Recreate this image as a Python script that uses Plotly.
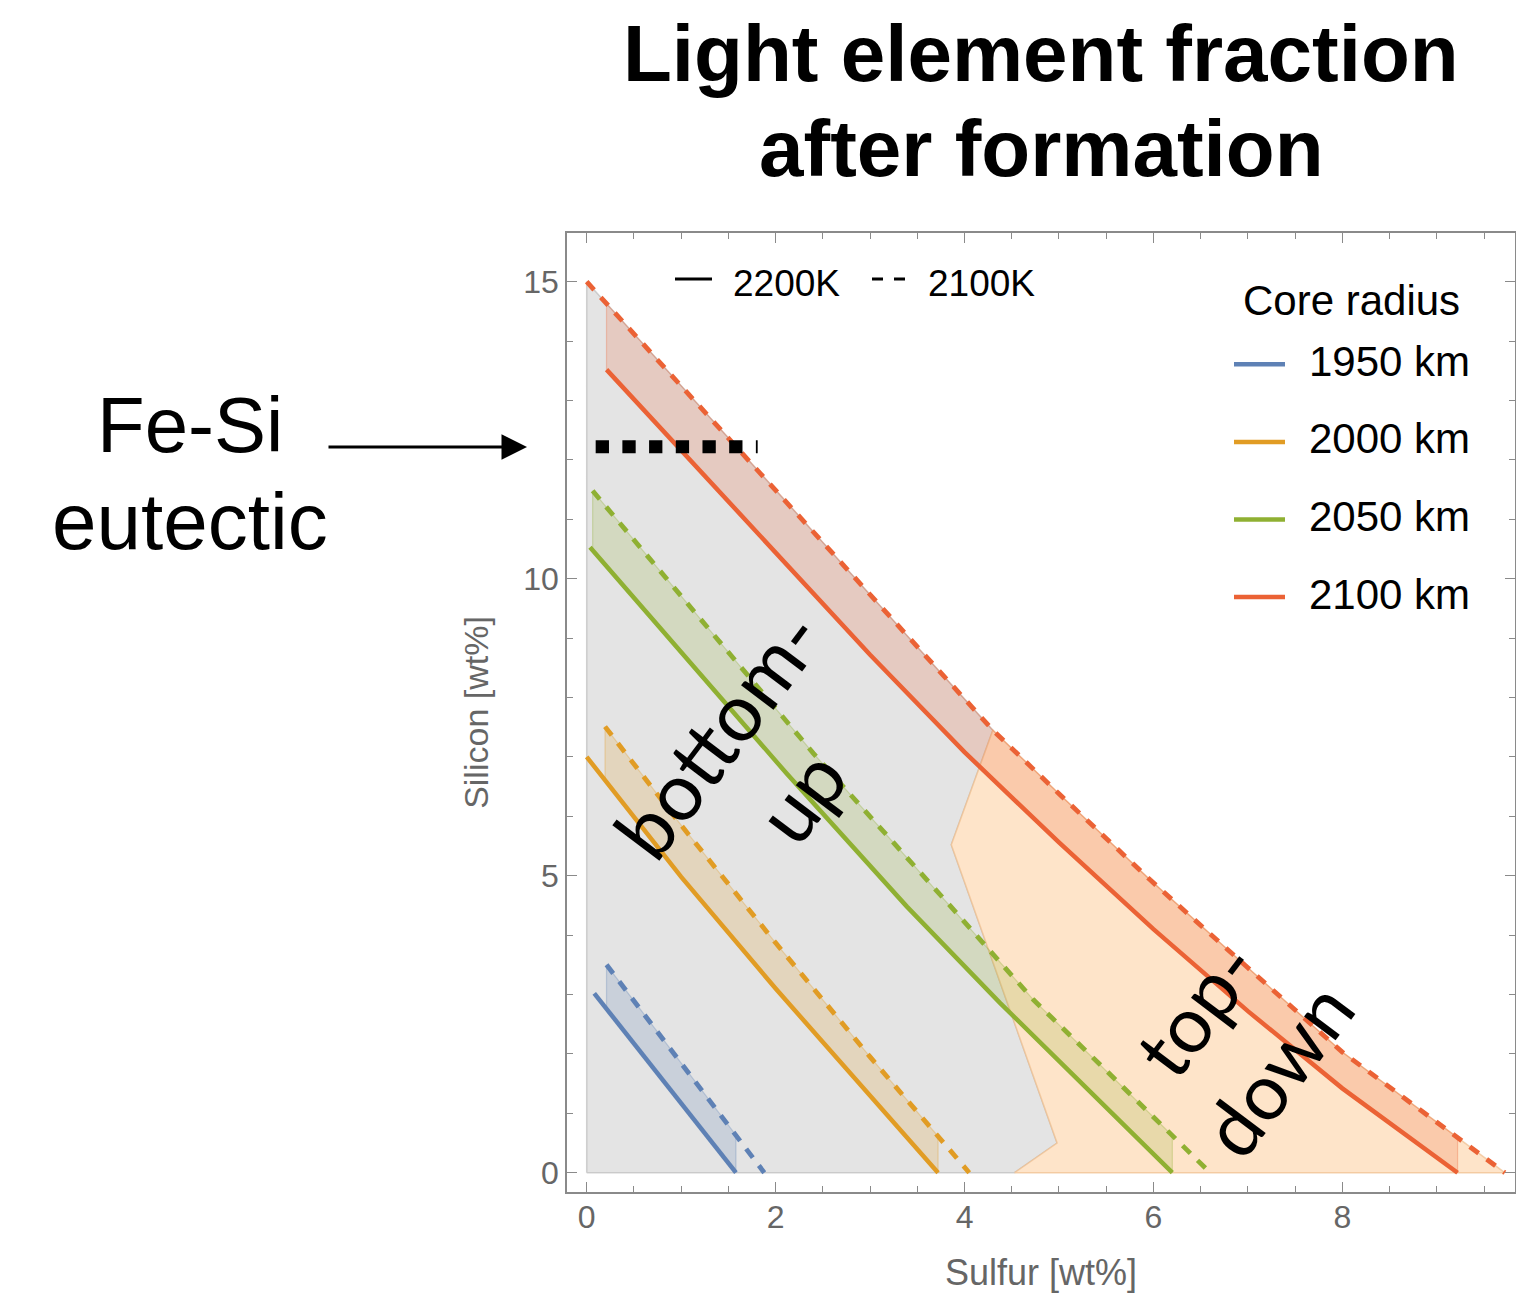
import numpy as np
import plotly.graph_objects as go

# ---------------- data ----------------
# Sulfur [wt%] (S) vs Silicon [wt%] (Si) curves, per core radius, two temperatures
red_solid_S = [0.21, 1.0, 2.0, 3.0, 4.0, 5.0, 6.0, 7.0, 8.0, 9.22]            # 2100 km, 2200K
red_solid_Si = [13.52, 12.16, 10.42, 8.72, 7.08, 5.56, 4.1, 2.72, 1.42, 0.0]
red_dash_S = [0.0, 1.0, 2.0, 2.75, 3.5, 4.3, 5.0, 5.965, 7.0, 8.0, 9.0, 9.72]  # 2100 km, 2100K
red_dash_Si = [15.0, 13.25, 11.5, 10.17, 8.85, 7.45, 6.38, 4.93, 3.45, 2.03, 0.85, 0.0]

green_solid_S = [0.035, 1.0, 2.117, 3.39, 4.375, 5.3, 6.2]                     # 2050 km, 2200K
green_solid_Si = [10.53, 8.77, 6.72, 4.48, 2.86, 1.41, 0.0]
green_dash_S = [0.063, 1.0, 2.4, 3.81, 4.73, 5.5, 6.6]                         # 2050 km, 2100K
green_dash_Si = [11.48, 9.71, 7.06, 4.56, 2.91, 1.72, 0.0]

orange_solid_S = [0.0, 1.0, 2.0, 3.0, 3.72]                                    # 2000 km, 2200K
orange_solid_Si = [7.0, 4.98, 3.1, 1.3, 0.0]
orange_dash_S = [0.194, 1.0, 2.0, 3.0, 4.05]                                   # 2000 km, 2100K
orange_dash_Si = [7.51, 5.85, 3.87, 1.95, 0.0]

blue_solid_S = [0.08, 1.58]                                                    # 1950 km, 2200K
blue_solid_Si = [3.02, 0.0]
blue_dash_S = [0.21, 1.0, 1.88]                                                # 1950 km, 2100K
blue_dash_Si = [3.5, 1.85, 0.0]

# boundary between bottom-up and top-down regimes
split_S = [4.3, 3.86, 4.98, 4.53]
split_Si = [7.45, 5.52, 0.5, 0.0]

# Fe-Si eutectic
eutectic_S = [0.095, 1.81]
eutectic_Si = [12.22, 12.22]

radius_labels = ["1950 km", "2000 km", "2050 km", "2100 km"]
temp_labels = ["2200K", "2100K"]
colors = ["#5E81B5", "#E19C24", "#8FB032", "#EB6235"]
fill_rgba = ["rgba(94,129,181,0.2)", "rgba(225,156,36,0.2)",
             "rgba(143,176,50,0.2)", "rgba(235,98,53,0.2)"]
edge_rgba = ["rgba(94,129,181,0.3)", "rgba(225,156,36,0.3)",
             "rgba(143,176,50,0.3)", "rgba(235,98,53,0.3)"]

curves = [
    (blue_solid_S, blue_solid_Si, blue_dash_S, blue_dash_Si),
    (orange_solid_S, orange_solid_Si, orange_dash_S, orange_dash_Si),
    (green_solid_S, green_solid_Si, green_dash_S, green_dash_Si),
    (red_solid_S, red_solid_Si, red_dash_S, red_dash_Si),
]

FONT = "Liberation Sans, Arial, Helvetica, sans-serif"
W, H = 1516, 1293
ML, MR, MT, MB = 567, 1, 233, 101
PW, PH = W - ML - MR, H - MT - MB


def pxx(p):
    return (p - ML) / PW


def pxy(p):
    return (H - MB - p) / PH


fig = go.Figure()

# ---------------- regime regions ----------------
rd_S = np.array(red_dash_S)
rd_Si = np.array(red_dash_Si)
top = split_S[0]
left_mask = rd_S < top
right_mask = rd_S > top

gray_x = [0.0] + list(rd_S[left_mask]) + split_S + [0.0]
gray_y = [0.0] + list(rd_Si[left_mask]) + split_Si + [0.0]
fig.add_trace(go.Scatter(x=gray_x, y=gray_y, mode="lines", fill="toself",
                         fillcolor="#E4E4E4",
                         line=dict(color="rgba(175,175,175,0.55)", width=1.5),
                         hoverinfo="skip", showlegend=False))

orng_x = split_S[::-1] + [top] + list(rd_S[right_mask]) + [split_S[-1]]
orng_y = split_Si[::-1] + [float(np.interp(top, red_dash_S, red_dash_Si))] + list(rd_Si[right_mask]) + [split_Si[-1]]
fig.add_trace(go.Scatter(x=orng_x, y=orng_y, mode="lines", fill="toself",
                         fillcolor="#FEE4C9",
                         line=dict(color="rgba(240,190,140,0.7)", width=1.5),
                         hoverinfo="skip", showlegend=False))

# ---------------- bands between temperatures ----------------
for (sS, sSi, dS, dSi), fc, ec in zip(curves, fill_rgba, edge_rgba):
    x0 = max(sS[0], dS[0])
    x1 = min(sS[-1], dS[-1])
    grid = sorted(set([x0, x1] + [v for v in sS + dS if x0 < v < x1]))
    lo = np.interp(grid, sS, sSi)
    hi = np.interp(grid, dS, dSi)
    px_ = list(grid) + list(grid[::-1]) + [grid[0]]
    py_ = list(lo) + list(hi[::-1]) + [lo[0]]
    fig.add_trace(go.Scatter(x=px_, y=py_, mode="lines", fill="toself",
                             fillcolor=fc, line=dict(color=ec, width=1.2),
                             hoverinfo="skip", showlegend=False))

# ---------------- curves ----------------
for (sS, sSi, dS, dSi), c, name in zip(curves, colors, radius_labels):
    fig.add_trace(go.Scatter(x=sS, y=sSi, mode="lines", name=name + " 2200K",
                             line=dict(color=c, width=4.5), showlegend=False))
    fig.add_trace(go.Scatter(x=dS, y=dSi, mode="lines", name=name + " 2100K",
                             line=dict(color=c, width=4.8, dash="11px,10px"),
                             showlegend=False))

# Fe-Si eutectic dotted line
fig.add_trace(go.Scatter(x=eutectic_S, y=eutectic_Si, mode="lines",
                         line=dict(color="black", width=13, dash="13.3px,13.4px"),
                         hoverinfo="skip", showlegend=False))

# ---------------- manual legends ----------------
shapes = []
annotations = []
legend_y = 279
shapes.append(dict(type="line", xref="paper", yref="paper",
                   x0=pxx(675), x1=pxx(712), y0=pxy(legend_y), y1=pxy(legend_y),
                   line=dict(color="black", width=3)))
shapes.append(dict(type="line", xref="paper", yref="paper",
                   x0=pxx(872), x1=pxx(905), y0=pxy(legend_y), y1=pxy(legend_y),
                   line=dict(color="black", width=3, dash="11px,11px")))
for txt, xp in zip(temp_labels, [731, 926]):
    annotations.append(dict(text=txt, xref="paper", yref="paper", x=pxx(xp), y=pxy(283),
                            xanchor="left", yanchor="middle", showarrow=False,
                            font=dict(family=FONT, size=37, color="black")))

annotations.append(dict(text="Core radius", xref="paper", yref="paper", x=pxx(1241), y=pxy(300),
                        xanchor="left", yanchor="middle", showarrow=False,
                        font=dict(family=FONT, size=42, color="black")))
for i, (lab, c) in enumerate(zip(radius_labels, colors)):
    ly = 364.3 + i * 77.6
    shapes.append(dict(type="line", xref="paper", yref="paper",
                       x0=pxx(1234), x1=pxx(1285), y0=pxy(ly), y1=pxy(ly),
                       line=dict(color=c, width=4.5)))
    annotations.append(dict(text=lab, xref="paper", yref="paper", x=pxx(1307), y=pxy(ly - 3),
                            xanchor="left", yanchor="middle", showarrow=False,
                            font=dict(family=FONT, size=42, color="black")))

# ---------------- title & side labels ----------------
annotations.append(dict(text="<b>Light element fraction</b>", xref="paper", yref="paper",
                        x=pxx(1041), y=pxy(53), xanchor="center", yanchor="middle",
                        showarrow=False, font=dict(family=FONT, size=80, color="black")))
annotations.append(dict(text="<b>after formation</b>", xref="paper", yref="paper",
                        x=pxx(1041), y=pxy(148), xanchor="center", yanchor="middle",
                        showarrow=False, font=dict(family=FONT, size=80, color="black")))
annotations.append(dict(text="Fe-Si", xref="paper", yref="paper",
                        x=pxx(190), y=pxy(425), xanchor="center", yanchor="middle",
                        showarrow=False, font=dict(family=FONT, size=78, color="black")))
annotations.append(dict(text="eutectic", xref="paper", yref="paper",
                        x=pxx(190), y=pxy(521), xanchor="center", yanchor="middle",
                        showarrow=False, font=dict(family=FONT, size=80, color="black")))
annotations.append(dict(text="", xref="paper", yref="paper", x=pxx(527), y=pxy(447),
                        ax=-200, ay=0, showarrow=True, arrowhead=2, arrowsize=1.7,
                        arrowwidth=3, arrowcolor="black"))

# regime labels (rotated)
annotations.append(dict(text="bottom-<br>up", xref="x", yref="y", x=1.82, y=6.88,
                        xanchor="center", yanchor="middle", textangle=-53, showarrow=False,
                        font=dict(family="Lato, " + FONT, size=80, color="black")))
annotations.append(dict(text="top-<br>down", xref="x", yref="y", x=6.87, y=2.26,
                        xanchor="center", yanchor="middle", textangle=-53, showarrow=False,
                        font=dict(family="Lato, " + FONT, size=78, color="black")))

axis_gray = "#8A8A8A"
label_gray = "#666666"

fig.update_layout(
    width=W, height=H,
    margin=dict(l=ML, r=MR, t=MT, b=MB, autoexpand=False),
    paper_bgcolor="white", plot_bgcolor="white",
    showlegend=False,
    shapes=shapes, annotations=annotations,
    font=dict(family=FONT, color=label_gray),
    xaxis=dict(range=[-0.2086, 9.828], tick0=0, dtick=2, showgrid=False, zeroline=False,
               showline=True, linecolor=axis_gray, linewidth=1.5, mirror="allticks",
               ticks="inside", ticklen=10, tickwidth=1.2, tickcolor=axis_gray,
               minor=dict(dtick=0.5, ticks="inside", ticklen=6, tickwidth=1, tickcolor=axis_gray,
                          showgrid=False),
               tickfont=dict(family=FONT, size=32, color=label_gray),
               ticklabelstandoff=-4,
               title=dict(text="Sulfur [wt%]", standoff=32,
                          font=dict(family=FONT, size=36, color=label_gray))),
    yaxis=dict(range=[-0.325, 15.82], tick0=0, dtick=5, showgrid=False, zeroline=False,
               showline=True, linecolor=axis_gray, linewidth=1.5, mirror="allticks",
               ticks="inside", ticklen=10, tickwidth=1.2, tickcolor=axis_gray,
               minor=dict(dtick=1, ticks="inside", ticklen=6, tickwidth=1, tickcolor=axis_gray,
                          showgrid=False),
               tickfont=dict(family=FONT, size=32, color=label_gray),
               ticklabelstandoff=0,
               title=dict(text="Silicon [wt%]", standoff=24,
                          font=dict(family=FONT, size=34, color=label_gray))),
)

fig.write_html("out.html", config={"displayModeBar": False},
               post_script="document.body.style.margin='0';document.body.style.overflow='hidden';")
